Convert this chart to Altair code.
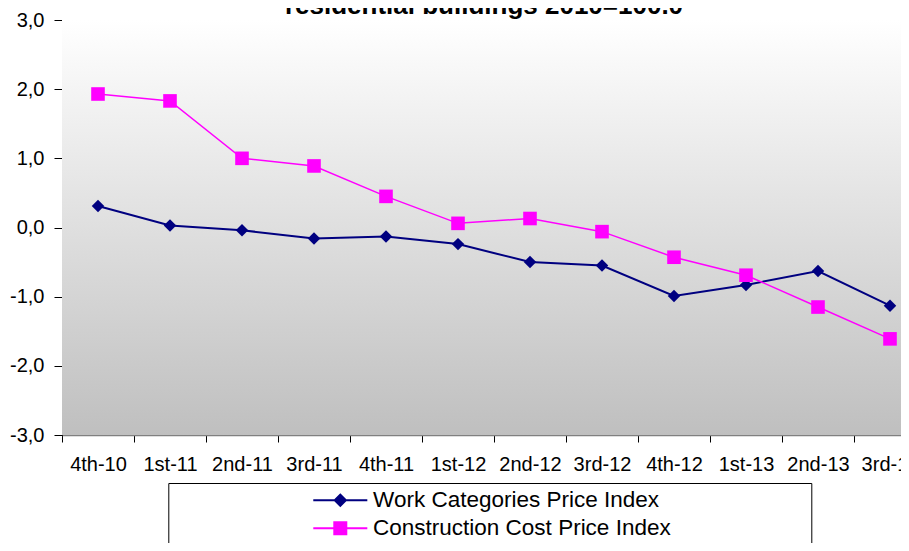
import altair as alt
import pandas as pd

# ---- data ----
quarters = ["4th-10", "1st-11", "2nd-11", "3rd-11", "4th-11", "1st-12",
            "2nd-12", "3rd-12", "4th-12", "1st-13", "2nd-13", "3rd-13"]
work_index = [0.31, 0.03, -0.04, -0.16, -0.13, -0.24, -0.50, -0.55, -0.99, -0.83, -0.63, -1.13]
construction_index = [1.93, 1.83, 1.00, 0.89, 0.45, 0.06, 0.13, -0.06, -0.43, -0.69, -1.15, -1.61]
series_names = ["Work Categories Price Index", "Construction Cost Price Index"]
title_text = "residential buildings 2010=100.0"
y_ticks = [-3, -2, -1, 0, 1, 2, 3]

NAVY = "#000080"
MAGENTA = "#FF00FF"
FONT = "Liberation Sans"
W, H = 864, 415

df = pd.DataFrame({
    "quarter": quarters * 2,
    "series": [series_names[0]] * len(quarters) + [series_names[1]] * len(quarters),
    "value": work_index + construction_index,
})

x_enc = alt.X(
    "quarter:N", sort=quarters, title=None,
    scale=alt.Scale(type="band", paddingInner=0, paddingOuter=0),
    axis=alt.Axis(
        tickBand="extent", labelAngle=0, labelFont=FONT, labelFontSize=20,
        labelColor="black", tickColor="black", tickSize=7, labelPadding=12,
        domainColor="#808080", domainWidth=1.5, grid=False, labelOverlap=False,
    ),
)
y_enc = alt.Y(
    "value:Q", title=None,
    scale=alt.Scale(domain=[-3, 3], nice=False, zero=False),
    axis=alt.Axis(
        values=y_ticks, grid=True,
        gridColor={"condition": {"test": "datum.value == 3", "value": "#c8c8c8"}, "value": "black"},
        gridWidth=1, domainColor="black", tickColor="black", tickSize=8,
        labelFont=FONT, labelFontSize=20, labelColor="black", labelPadding=10,
        labelExpr="replace(replace(format(datum.value, '.1f'), '.', ','), '\u2212', '-')",
    ),
)

background = alt.Chart(pd.DataFrame({"a": [0]})).mark_rect(
    fill=alt.Gradient(
        gradient="linear",
        stops=[alt.GradientStop(color="#ffffff", offset=0),
               alt.GradientStop(color="#bfbfbf", offset=1)],
        x1=0, x2=0, y1=0, y2=1,
    )
).encode(x=alt.value(0), x2=alt.value(W), y=alt.value(0), y2=alt.value(H))

def series_layers(name, color, width, shape, size):
    base = alt.Chart(df).transform_filter(alt.datum.series == name)
    line = base.mark_line(color=color, strokeWidth=width).encode(x=x_enc, y=y_enc)
    pts = base.mark_point(filled=True, color=color, shape=shape, size=size, opacity=1).encode(x=x_enc, y=y_enc)
    return [line, pts]

layers_work = series_layers(series_names[0], NAVY, 2, "diamond", 155)
layers_cons = series_layers(series_names[1], MAGENTA, 1.5, "square", 185)

# legend symbols: line through marker (paths in unit coordinates)
diamond_sym = "M-3.86,-0.15H3.86V0.15H-3.86Z M0,-1L1,0L0,1L-1,0Z M66.4,0"
square_sym = "M-3.86,-0.13H3.86V0.13H-3.86Z M-1,-1H1V1H-1Z M66.4,0"

leg = alt.Legend(
    orient="none", legendX=106.3, legendY=463, title=None, direction="vertical",
    labelFont=FONT, labelFontSize=22.5, labelColor="black", labelLimit=500,
    symbolSize=196, symbolOffset=154.75, labelOffset=21.5, padding=6, rowPadding=5,
    strokeColor="black", fillColor="white", symbolStrokeWidth=0,
)
legend_layer = alt.Chart(df).transform_filter("false").mark_point(
    filled=True, size=196, opacity=1
).encode(
    color=alt.Color("series:N", scale=alt.Scale(domain=series_names, range=[NAVY, MAGENTA]), legend=leg),
    shape=alt.Shape("series:N", scale=alt.Scale(domain=series_names, range=[diamond_sym, square_sym]), legend=leg),
)

title_layer = alt.Chart(pd.DataFrame({"t": [title_text]})).mark_text(
    font=FONT, fontSize=26, fontWeight="bold", color="black", align="center", baseline="alphabetic"
).encode(text="t:N", x=alt.value(W / 2 - 10), y=alt.value(-6))

chart = alt.layer(
    background, *layers_work, *layers_cons, legend_layer, title_layer
).properties(
    width=W, height=H,
    autosize=alt.AutoSizeParams(type="none"),
    padding={"left": 54, "top": 12, "right": -25, "bottom": 108},
    background="white",
).configure_view(stroke="transparent")

chart.save("out.html", embed_options={"renderer": "svg", "actions": False})
